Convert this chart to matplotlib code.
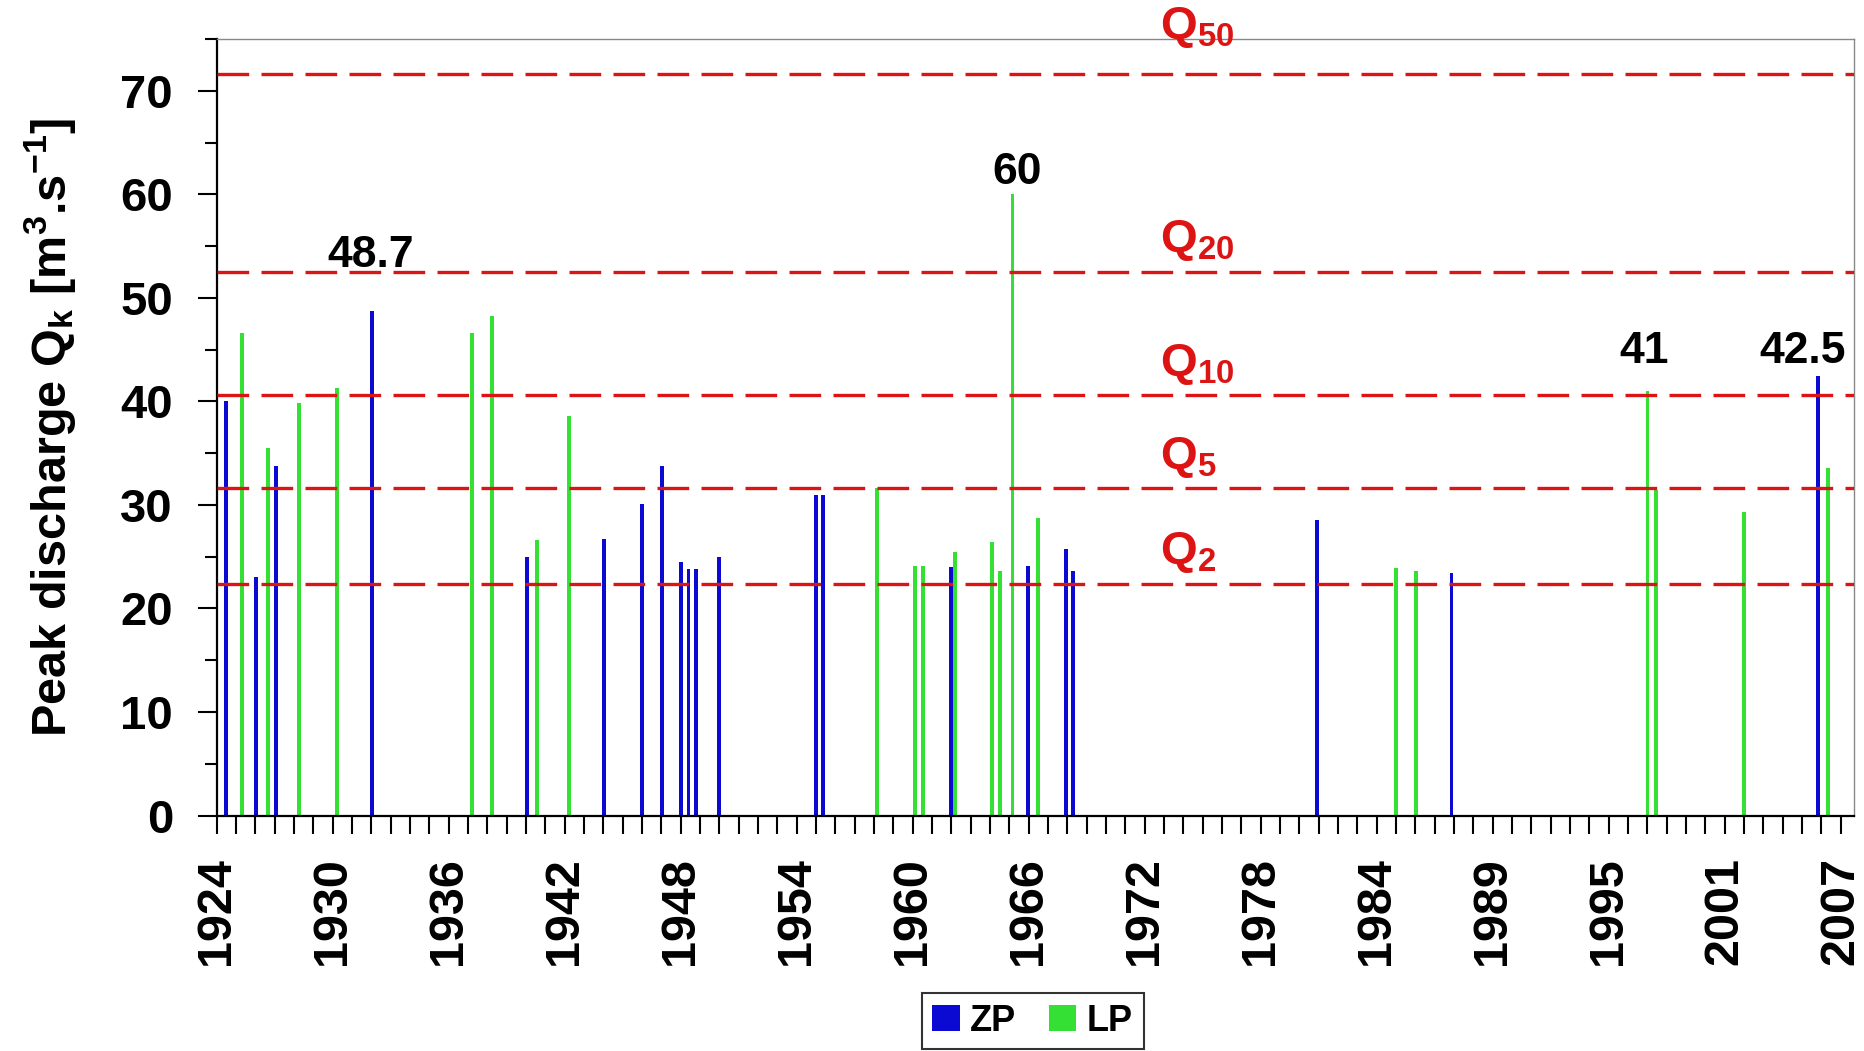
import matplotlib
matplotlib.use("Agg")
import matplotlib.pyplot as plt
from matplotlib.patches import Patch

plt.rcParams['font.family'] = ['Liberation Sans', 'DejaVu Sans']
plt.rcParams['font.weight'] = 'bold'
plt.rcParams['mathtext.fontset'] = 'custom'
plt.rcParams['mathtext.rm'] = 'Liberation Sans:bold'
plt.rcParams['mathtext.it'] = 'Liberation Sans:bold'
plt.rcParams['mathtext.bf'] = 'Liberation Sans:bold'

# ---- data ----
zp_years = [1924.48, 1926.02, 1927.05, 1932.05, 1940.04, 1944.05, 1945.99, 1947.02,
            1948.02, 1948.40, 1948.78, 1949.99, 1955.00, 1955.37, 1961.97, 1965.97,
            1967.92, 1968.31, 1980.91, 1987.87, 2006.83]
zp_values = [40.0, 23.0, 33.8, 48.7, 25.0, 26.75, 30.1, 33.8,
             24.45, 23.8, 23.8, 25.0, 31.0, 31.0, 24.0, 24.1,
             25.7, 23.6, 28.5, 23.4, 42.5]

lp_years = [1925.32, 1926.64, 1928.26, 1930.21, 1937.19, 1938.23, 1940.55, 1942.23,
            1958.17, 1960.13, 1960.52, 1962.18, 1964.12, 1964.52, 1965.16, 1966.49,
            1985.01, 1986.03, 1998.01, 1998.44, 2003.01, 2007.34]
lp_values = [46.6, 35.5, 39.8, 41.3, 46.6, 48.2, 26.6, 38.6,
             31.6, 24.1, 24.1, 25.5, 26.4, 23.6, 60.0, 28.7,
             23.9, 23.6, 41.0, 31.45, 29.3, 33.6]

q_names = ['50', '20', '10', '5', '2']
q_values = [71.6, 52.5, 40.6, 31.6, 22.4]

annot_text = ['48.7', '60', '41', '42.5']
annot_years = [1931.94, 1965.38, 1997.86, 2006.06]
annot_values = [53.0, 61.0, 43.7, 43.7]

tick_labels = ['1924', '1930', '1936', '1942', '1948', '1954', '1960', '1966',
               '1972', '1978', '1984', '1989', '1995', '2001', '2007']

series_names = ['ZP', 'LP']
blue = '#0a0ad2'
green = '#33e033'
red = '#dd1414'

# ---- figure ----
fig = plt.figure(figsize=(18.64, 10.51), dpi=100)
ax = fig.add_axes([0.1163, 0.2240, 0.8784, 0.7389])

ax.bar(zp_years, zp_values, width=0.2, color=blue, zorder=2)
ax.bar(lp_years, lp_values, width=0.2, color=green, zorder=2)

for name, q in zip(q_names, q_values):
    ax.axhline(q, color=red, lw=2.4, linestyle=(0, (9.5, 3.7)), zorder=3)
    ylab = q + 1.9 if q + 1.9 < 73 else 75.0
    ax.text(1972.8, ylab, r'Q$_{\mathbf{%s}}$' % name, color=red,
            fontsize=34, fontweight='bold', ha='left', va='baseline', zorder=4,
            clip_on=False)

for t, x, y in zip(annot_text, annot_years, annot_values):
    ax.text(x, y, t, fontsize=32, fontweight='bold', ha='center', va='baseline',
            color='black', zorder=4)

ax.set_xlim(1924, 2008.7)
ax.set_ylim(0, 75)

ax.set_yticks(range(0, 80, 10))
ax.set_yticks(range(5, 80, 10), minor=True)
ax.set_xticks(range(1924, 2009, 6))
ax.set_xticks(range(1924, 2009, 1), minor=True)
ax.set_xticklabels(tick_labels, rotation=90)

ax.tick_params(axis='y', which='major', length=13.5, width=1.5, pad=18, labelsize=34)
ax.tick_params(axis='y', which='minor', length=8.5, width=1.5)
ax.tick_params(axis='x', which='both', length=13, width=1.5, pad=17, labelsize=35)
for lab in ax.get_xticklabels() + ax.get_yticklabels():
    lab.set_fontweight('bold')

for s in ['left', 'bottom']:
    ax.spines[s].set_linewidth(1.6)
    ax.spines[s].set_color('black')
for s in ['top', 'right']:
    ax.spines[s].set_linewidth(1.0)
    ax.spines[s].set_color('#888888')

ax.set_ylabel(r'Peak discharge Q$_{k}$ [m$^{3}$.s$^{-1}$]', fontsize=35,
              fontweight='bold')
ax.yaxis.set_label_coords(-0.085, 0.5)

handles = [Patch(facecolor=blue, edgecolor='none'), Patch(facecolor=green, edgecolor='none')]
leg = fig.legend(handles, series_names, loc='center', bbox_to_anchor=(0.554, 0.0285),
                 ncol=2, frameon=True, fancybox=False, edgecolor='black',
                 prop={'weight': 'bold', 'size': 26}, handlelength=0.75, handleheight=0.75,
                 handletextpad=0.3, columnspacing=0.9, borderpad=0.3)
leg.get_frame().set_linewidth(1.5)

fig.savefig('out.png', dpi=100)
